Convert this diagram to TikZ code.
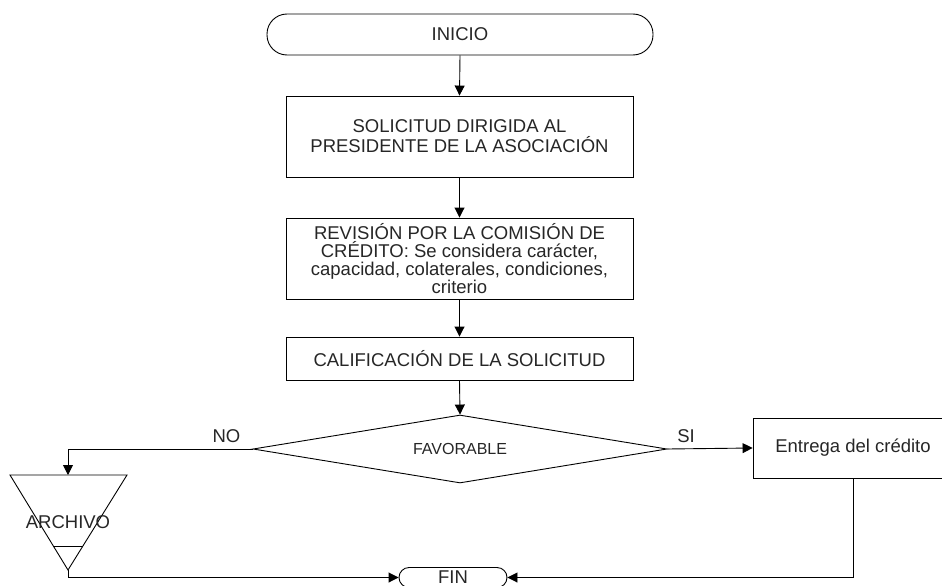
\documentclass[tikz,border=0pt]{standalone}
\usepackage{fontspec}
\setmainfont{Liberation Sans}
\usetikzlibrary{arrows.meta,shapes.geometric}
\begin{document}
\begin{tikzpicture}[x=1pt,y=-1pt,
  every node/.style={font=\fontsize{18.5}{20}\selectfont, text=black!85},
  proc/.style={draw, rectangle, minimum width=347pt, align=center, inner sep=0pt, line width=0.9pt},
  term/.style={draw, rectangle, rounded corners=#1, inner sep=0pt, line width=0.9pt},
  lbl/.style={inner sep=0pt},
  conn/.style={line width=0.9pt},
  arr/.style={conn, -{Triangle[length=10pt,width=10pt]}}]
\useasboundingbox (0,0) rectangle (942,586);
\clip (0,0) rectangle (942,586);

\node[term=20pt, minimum width=386pt, minimum height=41pt] (inicio) at (460,34.5) {INICIO};
\node[proc, minimum height=81pt] (sol) at (459.5,136.5) {SOLICITUD DIRIGIDA AL\\PRESIDENTE DE LA ASOCIACIÓN};
\node[proc, minimum height=81pt, font=\fontsize{18.5}{18}\selectfont] (rev) at (459.5,258.5) {REVISIÓN POR LA COMISIÓN DE\\CRÉDITO: Se considera carácter,\\capacidad, colaterales, condiciones,\\criterio};
\node[proc, minimum height=43pt] (cal) at (459.5,358.5) {CALIFICACIÓN DE LA SOLICITUD};
\node[draw, diamond, minimum width=414pt, minimum height=68pt, inner sep=0pt, aspect=6, line width=0.9pt, font=\fontsize{16}{16}\selectfont] (fav) at (460,449) {FAVORABLE};
\node[draw, rectangle, minimum width=200pt, minimum height=60pt, line width=0.9pt] (ent) at (853,448) {Entrega del crédito};
\node[term=10pt, minimum width=108pt, minimum height=20pt] (fin) at (453,577.5) {FIN};

% ARCHIVO (inverted triangle)
\coordinate (archtop) at (68,475);
\coordinate (archbot) at (68,570);
\draw[conn] (10,475) -- (127,475) -- (archbot) -- cycle;
\draw[conn] (53,546) -- (83,546);
\node[lbl] (arch) at (68,522.5) {ARCHIVO};

% labels
\node[lbl] (no) at (226.5,436) {NO};
\node[lbl] (si) at (686,436) {SI};

% connectors
\draw[arr] (inicio.south) -- (sol.north);
\draw[arr] (sol.south) -- (rev.north);
\draw[arr] (rev.south) -- (cal.north);
\draw[arr] (cal.south) -- (fav.north);
\draw[arr] (fav.west) -| (archtop);
\draw[arr] (fav.east) -- (ent.west);
\draw[arr] (archbot) |- (fin.west);
\draw[arr] (ent.south) |- (fin.east);
\end{tikzpicture}
\end{document}
